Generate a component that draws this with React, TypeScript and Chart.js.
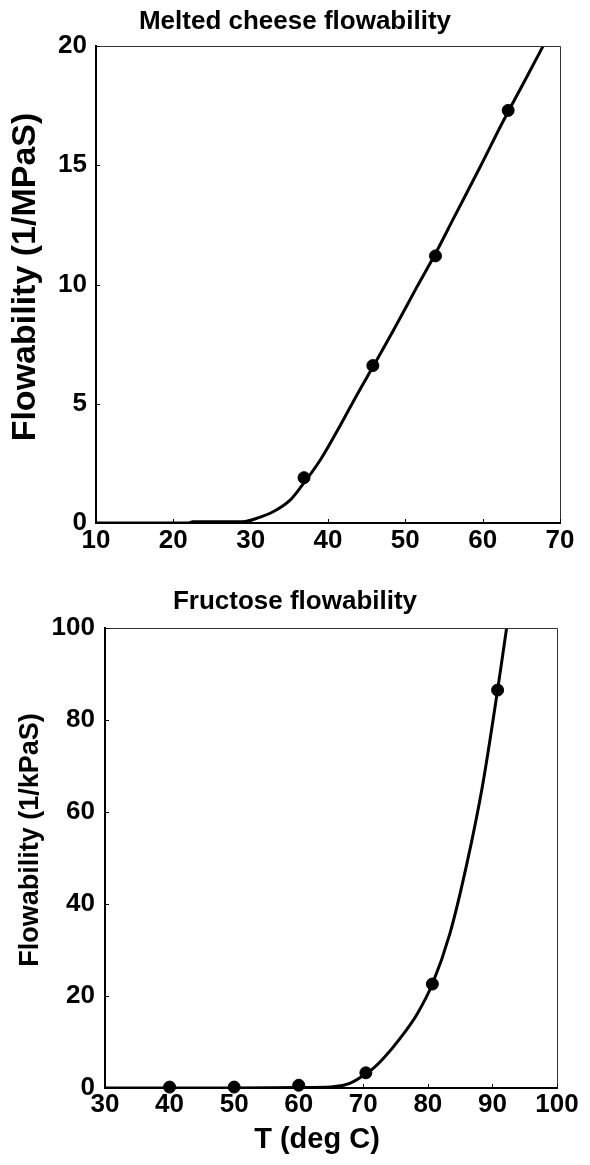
import React, { useEffect, useRef } from "react";
import { Chart, registerables } from "chart.js";

Chart.register(...registerables);

// Melted cheese: measured points and fitted curve (T in deg C, flowability in 1/MPaS)
const cheeseTemps = [36.9, 45.8, 53.9, 63.3];
const cheeseFlow = [1.9, 6.6, 11.2, 17.3];
const cheeseCurveT = [10, 22, 22.5, 29, 30.8, 32.9, 35.1, 36.4, 39.0, 41.6, 43.7, 45.9, 48.5, 51.5, 53.9, 56.2, 59.7, 62.5, 65.7, 68.3];
const cheeseCurveF = [0, 0, 0.05, 0.05, 0.2, 0.47, 0.96, 1.47, 2.64, 4.1, 5.35, 6.6, 8.1, 9.9, 11.3, 12.75, 14.95, 16.75, 18.7, 20.3];

// Fructose: measured points and fitted curve (T in deg C, flowability in 1/kPaS)
const fructoseTemps = [40, 50, 60, 70.4, 80.7, 90.8];
const fructoseFlow = [0.2, 0.2, 0.6, 3.3, 22.6, 86.5];
const fructoseCurveT = [30, 40, 50, 60, 65, 67.9, 69.8, 71.5, 73.1, 75.7, 78.3, 80.7, 83.4, 86.0, 88.5, 90.8, 92.3];
const fructoseCurveF = [0, 0, 0, 0.1, 0.2, 1.0, 2.5, 4.2, 6.4, 10.8, 16.0, 22.6, 33.5, 48.5, 66.0, 86.5, 101];

const FONT = "'Liberation Sans', Arial, sans-serif";

// Thin frame on top/right and short inward tick marks on the axes
const framePlugin = {
  id: "frameTicks",
  afterDraw(chart: any) {
    const { ctx, chartArea } = chart;
    const { left, right, top, bottom } = chartArea;
    ctx.save();
    ctx.strokeStyle = "#333";
    ctx.lineWidth = 1;
    ctx.beginPath();
    ctx.moveTo(left, top + 0.5);
    ctx.lineTo(right + 0.5, top + 0.5);
    ctx.lineTo(right + 0.5, bottom);
    ctx.stroke();
    ctx.strokeStyle = "#000";
    ctx.lineWidth = 1;
    const xs = chart.scales.x;
    const ys = chart.scales.y;
    ctx.beginPath();
    xs.ticks.forEach((t: any) => {
      const px = Math.round(xs.getPixelForValue(t.value)) + 0.5;
      ctx.moveTo(px, bottom);
      ctx.lineTo(px, bottom - 4);
    });
    ys.ticks.forEach((t: any) => {
      const py = Math.round(ys.getPixelForValue(t.value)) + 0.5;
      ctx.moveTo(left, py);
      ctx.lineTo(left + 4, py);
    });
    ctx.stroke();
    ctx.restore();
  },
};

type AxisLabel = { text: string; size: number; cx: number; cy: number };

// Axis titles placed at fixed centres inside the reserved axis margins
const axisTitlePlugin = {
  id: "axisTitles",
  afterDraw(chart: any, _args: any, opts: any) {
    const { ctx } = chart;
    const draw = (lab: AxisLabel | undefined, rotate: boolean) => {
      if (!lab) return;
      ctx.save();
      ctx.fillStyle = "#000";
      ctx.font = `bold ${lab.size}px ${FONT}`;
      ctx.textAlign = "center";
      ctx.textBaseline = "middle";
      ctx.translate(lab.cx, lab.cy);
      if (rotate) ctx.rotate(-Math.PI / 2);
      ctx.fillText(lab.text, 0, 0);
      ctx.restore();
    };
    draw(opts.y, true);
    draw(opts.x, false);
  },
};

type PanelProps = {
  title: string;
  yLabel: AxisLabel;
  xLabel?: AxisLabel;
  xs: number[];
  ys: number[];
  curveX: number[];
  curveY: number[];
  xMin: number;
  xMax: number;
  xStep: number;
  yMax: number;
  yStep: number;
  yAxisWidth: number;
  yTickPad: number;
  xAxisHeight: number;
  xTickPad: number;
  titleBottomPad: number;
  rightPad: number;
  height: number;
};

function Panel(p: PanelProps) {
  const ref = useRef<HTMLCanvasElement>(null);
  useEffect(() => {
    if (!ref.current) return;
    const chart = new Chart(ref.current, {
      type: "scatter",
      data: {
        datasets: [
          {
            data: p.curveX.map((x, i) => ({ x, y: p.curveY[i] })),
            showLine: true,
            borderColor: "#000",
            borderWidth: 3,
            pointRadius: 0,
            cubicInterpolationMode: "monotone",
            order: 2,
          },
          {
            data: p.xs.map((x, i) => ({ x, y: p.ys[i] })),
            showLine: false,
            backgroundColor: "#000",
            borderColor: "#000",
            pointRadius: 6,
            clip: false,
            order: 1,
          },
        ],
      },
      options: {
        animation: false,
        responsive: false,
        devicePixelRatio: 1,
        layout: { padding: 0 },
        plugins: {
          legend: { display: false },
          tooltip: { enabled: false },
          title: {
            display: true,
            text: p.title,
            color: "#000",
            font: { family: FONT, size: 26, weight: "bold" },
            padding: { top: 6.4, bottom: p.titleBottomPad },
          },
          axisTitles: { y: p.yLabel, x: p.xLabel },
        },
        scales: {
          x: {
            type: "linear",
            min: p.xMin,
            max: p.xMax,
            ticks: {
              stepSize: p.xStep,
              color: "#000",
              padding: p.xTickPad,
              font: { family: FONT, size: 26, weight: "bold" },
              maxRotation: 0,
            },
            grid: { display: false, drawTicks: false },
            border: { display: true, color: "#000", width: 2 },
            afterFit: (s: any) => {
              s.height = p.xAxisHeight;
            },
          },
          y: {
            type: "linear",
            min: 0,
            max: p.yMax,
            ticks: {
              stepSize: p.yStep,
              color: "#000",
              padding: p.yTickPad,
              font: { family: FONT, size: 26, weight: "bold" },
            },
            grid: { display: false, drawTicks: false },
            border: { display: true, color: "#000", width: 2 },
            afterFit: (s: any) => {
              s.width = p.yAxisWidth;
            },
          },
          // empty right-hand margin so the title centres on the full width
          yRight: {
            type: "linear",
            position: "right",
            display: true,
            ticks: { display: false },
            grid: { display: false, drawTicks: false },
            border: { display: false },
            afterFit: (s: any) => {
              s.width = p.rightPad;
            },
          },
        },
      },
      plugins: [framePlugin, axisTitlePlugin],
    } as any);
    return () => chart.destroy();
  }, []);
  return (
    <div style={{ width: 590, height: p.height, position: "relative" }}>
      <canvas ref={ref} width={590} height={p.height} style={{ display: "block" }} />
    </div>
  );
}

export default function App() {
  return (
    <div style={{ position: "absolute", left: 0, top: 0, width: 590, height: 1165, background: "#fff" }}>
      <Panel
        title="Melted cheese flowability"
        yLabel={{ text: "Flowability (1/MPaS)", size: 34, cx: 26, cy: 277 }}
        xs={cheeseTemps}
        ys={cheeseFlow}
        curveX={cheeseCurveT}
        curveY={cheeseCurveF}
        xMin={10}
        xMax={70}
        xStep={10}
        yMax={20}
        yStep={5}
        yAxisWidth={96}
        yTickPad={9}
        xAxisHeight={57}
        xTickPad={2.5}
        titleBottomPad={8.4}
        rightPad={30}
        height={580}
      />
      <Panel
        title="Fructose flowability"
        yLabel={{ text: "Flowability (1/kPaS)", size: 27, cx: 31, cy: 260 }}
        xLabel={{ text: "T (deg C)", size: 29, cx: 317, cy: 560 }}
        xs={fructoseTemps}
        ys={fructoseFlow}
        curveX={fructoseCurveT}
        curveY={fructoseCurveF}
        xMin={30}
        xMax={100}
        xStep={10}
        yMax={100}
        yStep={20}
        yAxisWidth={105}
        yTickPad={10}
        xAxisHeight={77}
        xTickPad={1}
        titleBottomPad={10.4}
        rightPad={33}
        height={585}
      />
    </div>
  );
}
